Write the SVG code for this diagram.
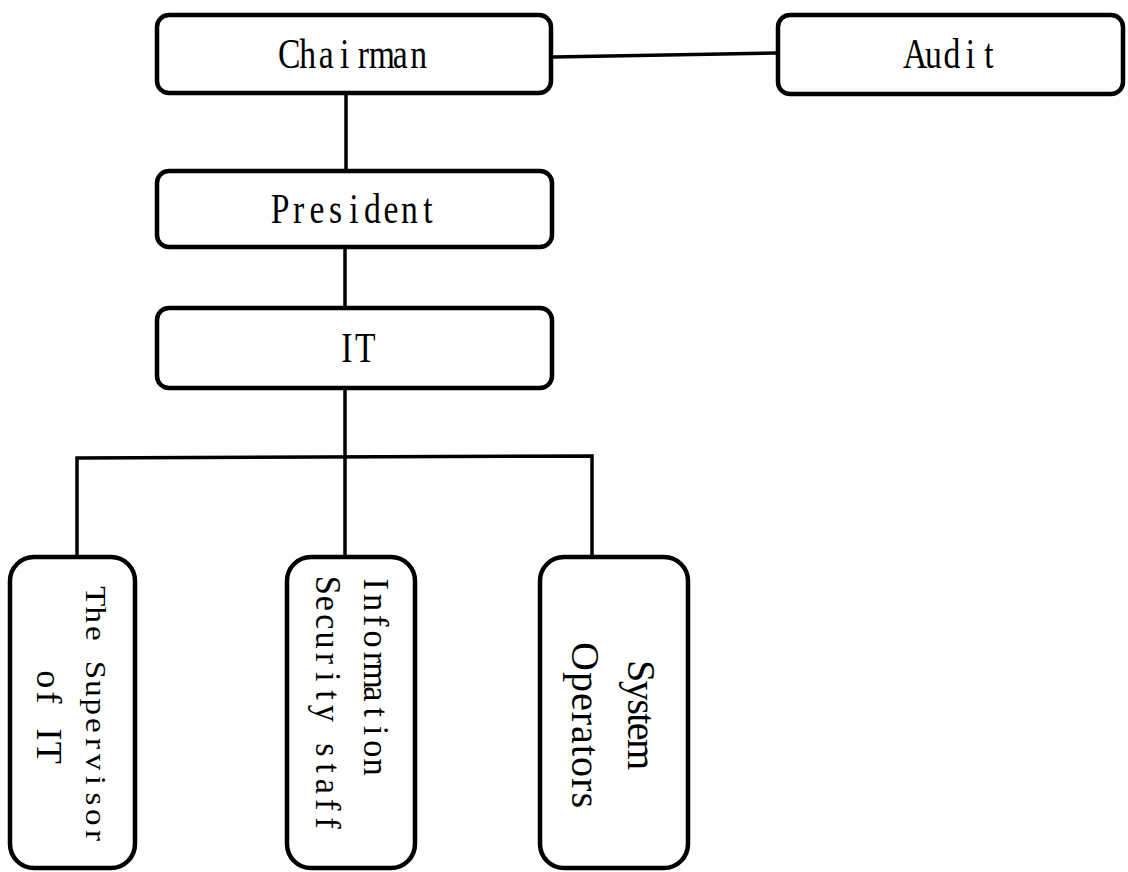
<svg xmlns="http://www.w3.org/2000/svg" width="1128" height="872" viewBox="0 0 1128 872">
  <style>
    .box { fill: #ffffff; stroke: #000000; stroke-width: 4.5; }
    .wire { fill: none; stroke: #000000; stroke-width: 3.5; }
    .lbl { font-family: "Liberation Serif", "DejaVu Serif", serif; fill: #000000; }
    .head { font-size: 42px; }
  </style>
  <rect x="0" y="0" width="1128" height="872" fill="#ffffff"/>

  <!-- connectors -->
  <g id="connectors">
    <path class="wire" d="M553 57 L776 53"/>
    <path class="wire" d="M346 95 L346 169"/>
    <path class="wire" d="M345 249 L345 306"/>
    <path class="wire" d="M345 390 L345 557"/>
    <path class="wire" d="M77 557 L77 458 L592 456 L592 557"/>
  </g>

  <!-- upper chain: fixed-pitch cells, glyphs narrowed to 80% -->
  <g id="chairman">
    <rect class="box" x="157" y="15" width="394" height="78" rx="12"/>
    <text class="lbl head" transform="translate(354,68) scale(0.8,1)" x="-94.94 -68.31 -44.01 -17.4 4.57 18.35 48.49 70.44">Chairman</text>
  </g>
  <g id="audit">
    <rect class="box" x="778" y="15" width="345" height="79" rx="12"/>
    <text class="lbl head" transform="translate(952,68) scale(0.8,1)" x="-61.41 -33.63 -10.5 17.29 40.41">Audit</text>
  </g>
  <g id="president">
    <rect class="box" x="157" y="171" width="395" height="76" rx="12"/>
    <text class="lbl head" transform="translate(354,223) scale(0.8,1)" x="-104.17 -76.37 -55.57 -31.3 -5.84 12.63 36.93 58.88 86.66">President</text>
  </g>
  <g id="it">
    <rect class="box" x="157" y="308" width="395" height="80" rx="12"/>
    <text class="lbl head" transform="translate(356,362) scale(0.8,1)" x="-18.56 -1.27">IT</text>
  </g>

  <!-- IT staff, vertical labels -->
  <g id="supervisor">
    <rect class="box" x="10" y="557" width="125" height="311" rx="24"/>
    <text class="lbl" font-size="30" transform="translate(86,716) rotate(90) scale(1.1,1)" x="-117.91 -99.51 -81.94 -62.3 -50.16 -32.59 -15.86 1.71 20.1 34.33 54.39 69.45 84.52 103.75">The Supervisor</text>
    <text class="lbl" font-size="36" transform="translate(37,716) rotate(90)" x="-45.8 -24.4 -4.5 12.4 25.8">of IT</text>
  </g>
  <g id="security">
    <rect class="box" x="287" y="557" width="128" height="311" rx="24"/>
    <text class="lbl" font-size="36" transform="translate(364,575) rotate(90) scale(0.95,1)" x="3.64 19.89 42.16 58.41 80.68 91.92 117.2 139.45 158.71 173.97 193.23">Information</text>
    <text class="lbl" font-size="36" transform="translate(316,576) rotate(90) scale(0.95,1)" x="-0.38 20.9 40.16 58.41 80.68 100.93 120.19 135.45 159.21 175.97 197.23 213.5 234.76 254.02">Security staff</text>
  </g>
  <g id="operators">
    <rect class="box" x="540" y="557" width="148" height="311" rx="24"/>
    <text class="lbl" font-size="40" transform="translate(628,715) rotate(90)" text-anchor="middle" textLength="110" lengthAdjust="spacing">System</text>
    <text class="lbl" font-size="40" transform="translate(572,725) rotate(90)" text-anchor="middle" textLength="166" lengthAdjust="spacing">Operators</text>
  </g>
</svg>
